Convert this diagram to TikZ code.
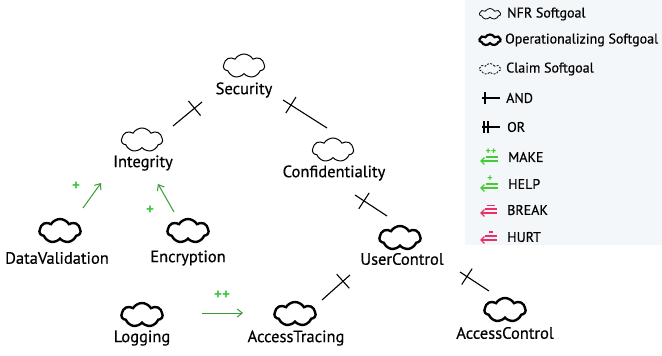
\documentclass[tikz,border=0pt]{standalone}
\usepackage{fontspec}
\setmainfont{PT Sans}
\newfontfamily\lblfont[FakeBold=0.5]{PT Sans}
\usetikzlibrary{shapes.symbols,arrows.meta}
\definecolor{arrowgreen}{HTML}{3A9A35}
\definecolor{plusgreen}{HTML}{3EC63E}
\definecolor{leggreen}{HTML}{44CC33}
\definecolor{legpink}{HTML}{EC2F66}
\definecolor{legbg}{HTML}{F4F7F9}
\begin{document}
\begin{tikzpicture}[x=1pt,y=-1pt,
  cloudbase/.style={cloud, cloud puffs=7, cloud puff arc=120, aspect=1.7, inner sep=0pt, minimum width=41pt, minimum height=24pt, draw},
  nfr/.style={cloudbase, line width=1pt},
  oper/.style={cloudbase, line width=2.4pt},
  smallnfr/.style={cloudbase, minimum width=21pt, minimum height=11pt, line width=0.8pt},
  smalloper/.style={cloudbase, minimum width=21pt, minimum height=11pt, line width=2.2pt},
  smallclaim/.style={cloudbase, minimum width=21pt, minimum height=11pt, line width=0.8pt, dash pattern=on 2pt off 1.3pt},
  lbl/.style={font=\lblfont\fontsize{16.5}{16.5}\selectfont, inner sep=0pt},
  leg/.style={font=\lblfont\fontsize{14}{14}\selectfont, inner sep=0pt, anchor=west},
  andlink/.style={line width=1.1pt},
  tickmark/.style={sloped, draw, line width=1.1pt, inner sep=0pt, minimum width=0pt, minimum height=19pt, shape=rectangle},
  contrib/.style={draw=arrowgreen, line width=1pt, -{Straight Barb[length=5pt,width=8pt]}},
  plus/.style={text=plusgreen, font=\bfseries\fontsize{15}{15}\selectfont, inner sep=0pt},
  legicon/.style={line width=1.3pt},
]
\useasboundingbox (0,0) rectangle (662,356);
\fill[white] (0,0) rectangle (662,356);
% legend background
\fill[legbg] (465,0) rectangle (662,245);

% softgoals
\node[nfr] (secC) at (244,66) {};
\node[lbl] (sec) at (244,90) {Security};
\node[nfr] (intC) at (142,140) {};
\node[lbl] (int) at (143,163) {Integrity};
\node[nfr] (confC) at (333,150) {};
\node[lbl] (conf) at (334,173) {Confidentiality};
\node[oper] (dvC) at (60,231) {};
\node[lbl] (dv) at (57,258) {DataValidation};
\node[oper] (encC) at (188,231) {};
\node[lbl] (enc) at (188,258) {Encryption};
\node[oper] (ucC) at (400,238) {};
\node[lbl] (uc) at (402,259) {UserControl};
\node[oper] (logC) at (142,315) {};
\node[lbl] (log) at (142,338) {Logging};
\node[oper] (atC) at (295,314) {};
\node[lbl] (at) at (296,338) {AccessTracing};
\node[oper] (acC) at (505,310) {};
\node[lbl] (ac) at (505,333) {AccessControl};

% AND links
\coordinate (l1a) at (173,126); \coordinate (l1b) at (202,102);
\coordinate (l2a) at (327,128); \coordinate (l2b) at (283,100);
\coordinate (l3a) at (387,216); \coordinate (l3b) at (355,195);
\coordinate (l4a) at (322,300); \coordinate (l4b) at (350,275);
\coordinate (l5a) at (489,291); \coordinate (l5b) at (460,272);
\draw[andlink] (l1a) -- node[tickmark, pos=0.74] (t1) {} (l1b);
\draw[andlink] (l2a) -- node[tickmark, pos=0.82] (t2) {} (l2b);
\draw[andlink] (l3a) -- node[tickmark, pos=0.72] (t3) {} (l3b);
\draw[andlink] (l4a) -- node[tickmark, pos=0.75] (t4) {} (l4b);
\draw[andlink] (l5a) -- node[tickmark, pos=0.76] (t5) {} (l5b);

% contributions
\coordinate (c1a) at (83,208); \coordinate (c1b) at (101,183);
\coordinate (c2a) at (174,212); \coordinate (c2b) at (158,184);
\coordinate (c3a) at (202,313); \coordinate (c3b) at (243,313);
\draw[contrib] (c1a) -- (c1b);
\draw[contrib] (c2a) -- (c2b);
\draw[contrib] (c3a) -- (c3b);
\node[plus] (p1) at (76,186) {+};
\node[plus] (p2) at (150,210) {+};
\node[plus] (p3) at (222,295) {++};

% legend
\node[smallnfr] (lg1) at (490,14) {};
\node[leg] (lt1) at (507,14) {NFR Softgoal};
\node[smalloper] (lg2) at (490,40) {};
\node[leg] (lt2) at (505,40) {Operationalizing Softgoal};
\node[smallclaim] (lg3) at (490,69) {};
\node[leg] (lt3) at (506,69) {Claim Softgoal};
\draw[legicon] (482,98) -- (500,98);
\draw[legicon] (485,92) -- (485,104);
\node[leg] (lt4) at (506,98) {AND};
\draw[legicon] (482,127) -- (500,127);
\draw[legicon] (484,121) -- (484,133);
\draw[legicon] (488,121) -- (488,133);
\node[leg] (lt5) at (507,127) {OR};
% MAKE
\draw[legicon, leggreen, -{Straight Barb[length=3.5pt,width=7pt]}] (498,161) -- (480,161);
\draw[legicon, leggreen] (486,157) -- (498,157);
\node[text=leggreen, font=\bfseries\fontsize{10}{10}\selectfont, inner sep=0pt] (lm) at (491,151.5) {++};
\node[leg] (lt6) at (508,157) {MAKE};
% HELP
\draw[legicon, leggreen, -{Straight Barb[length=3.5pt,width=7pt]}] (498,188) -- (480,188);
\draw[legicon, leggreen] (486,184) -- (498,184);
\node[text=leggreen, font=\bfseries\fontsize{10}{10}\selectfont, inner sep=0pt] (lh) at (490,179) {+};
\node[leg] (lt7) at (508,184) {HELP};
% BREAK
\draw[legicon, legpink, -{Straight Barb[length=3.5pt,width=7pt]}] (497,213) -- (480,213);
\draw[legicon, legpink] (485,209) -- (497,209);
\draw[legicon, legpink] (487,205.5) -- (495,205.5);
\node[leg] (lt8) at (507,210) {BREAK};
% HURT
\draw[legicon, legpink, -{Straight Barb[length=3.5pt,width=7pt]}] (497,240) -- (480,240);
\draw[legicon, legpink] (485,236) -- (497,236);
\draw[legicon, legpink] (489,232) -- (493,232);
\node[leg] (lt9) at (507,237) {HURT};
\end{tikzpicture}
\end{document}
